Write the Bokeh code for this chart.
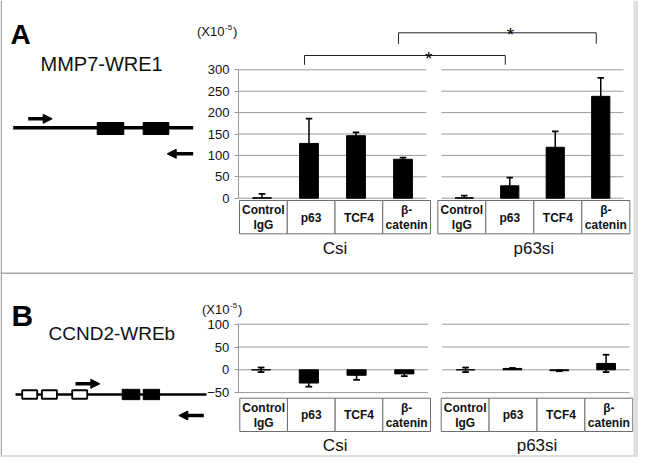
from bokeh.plotting import figure
from bokeh.models import Range1d, LinearAxis, FixedTicker, Arrow, NormalHead
from bokeh.core.properties import value
from bokeh.embed import file_html
from bokeh.resources import INLINE

# ---------------- data ----------------
categories = ["Control\nIgG", "p63", "TCF4", "β-\ncatenin"]
groups = ["Csi", "p63si"]

a_csi_vals = [1, 128, 146, 91]
a_csi_err = [9, 58, 8, 4]
a_p63si_vals = [1, 29, 119, 238]
a_p63si_err = [5, 19, 37, 43]

b_csi_vals = [0, -29, -12, -9]
b_csi_err = [5, 8, 10, 5]
b_p63si_vals = [0, 3, -2, 14]
b_p63si_err = [5, 1, 1, 19]

a_ticks = [0, 50, 100, 150, 200, 250, 300]
b_ticks = [-50, 0, 50, 100]
unit_label = "(X10"
unit_exp = "-5"
title_a = "MMP7-WRE1"
title_b = "CCND2-WREb"

FONT = value("Liberation Sans")
W, H = 638, 457
X0, X1, Y0, Y1 = 0, W, 0, H   # pixel coordinates of the frame

p = figure(width=W, height=H, x_range=Range1d(X0, X1), y_range=Range1d(Y1, Y0),
           x_axis_type=None, y_axis_type=None, toolbar_location=None,
           output_backend="svg", min_border=0)
p.outline_line_color = None
p.background_fill_color = "white"


def yrange(zero_px, px_per_unit):
    return Range1d(start=(zero_px - Y1) / px_per_unit, end=(zero_px - Y0) / px_per_unit)


p.extra_y_ranges = {
    "A": yrange(197.7, (197.7 - 69.3) / 300.0),
    "B": yrange(369.3, (392.7 - 324.3) / 150.0),
}

charts = [
    dict(name="A_csi", left=238.0, right=426.0, yr="A", vals=a_csi_vals, err=a_csi_err,
         sym=False, box=(239.0, 430.0, 200.0, 233.3), group=groups[0], glabel_y=248.0),
    dict(name="A_p63si", left=441.0, right=623.0, yr="A", vals=a_p63si_vals, err=a_p63si_err,
         sym=False, box=(437.3, 629.3, 200.0, 233.3), group=groups[1], glabel_y=248.0),
    dict(name="B_csi", left=236.7, right=427.7, yr="B", vals=b_csi_vals, err=b_csi_err,
         sym=True, box=(239.3, 430.0, 397.7, 431.0), group=groups[0], glabel_y=445.0),
    dict(name="B_p63si", left=441.7, right=629.0, yr="B", vals=b_p63si_vals, err=b_p63si_err,
         sym=True, box=(440.7, 632.3, 397.7, 431.0), group=groups[1], glabel_y=445.0),
]

xr = {}
for c in charts:
    w = (c["right"] - c["left"]) / len(categories)
    c["w"] = w
    xr[c["name"]] = Range1d(start=(X0 - c["left"]) / w - 0.5, end=(X1 - c["left"]) / w - 0.5)
p.extra_x_ranges = xr


def cat_px(c, i):
    return c["left"] + c["w"] * (i + 0.5)


GRID = "#9a9a9a"
idx = list(range(len(categories)))

for c in charts:
    ticks = a_ticks if c["yr"] == "A" else b_ticks
    # gridlines
    p.segment(x0=[-0.5] * len(ticks), x1=[len(categories) - 0.5] * len(ticks), y0=ticks, y1=ticks,
              x_range_name=c["name"], y_range_name=c["yr"], line_color=GRID, line_width=1)
    # bars
    p.vbar(x=idx, top=c["vals"], bottom=0, width=0.4, x_range_name=c["name"],
           y_range_name=c["yr"], fill_color="black", line_color="black")
    # error bars
    up = [v + e for v, e in zip(c["vals"], c["err"])]
    lo = [v - e for v, e in zip(c["vals"], c["err"])] if c["sym"] else list(c["vals"])
    p.segment(x0=idx, x1=idx, y0=lo, y1=up, x_range_name=c["name"], y_range_name=c["yr"],
              line_color="black", line_width=1.5)
    capx0 = [i - 0.07 for i in idx]
    capx1 = [i + 0.07 for i in idx]
    p.segment(x0=capx0, x1=capx1, y0=up, y1=up, x_range_name=c["name"], y_range_name=c["yr"],
              line_color="black", line_width=1.8)
    if c["sym"]:
        p.segment(x0=capx0, x1=capx1, y0=lo, y1=lo, x_range_name=c["name"], y_range_name=c["yr"],
                  line_color="black", line_width=1.8)
    # category boxes
    bl, br, bt, bb = c["box"]
    bw = (br - bl) / len(categories)
    bx = [bl + bw * (i + 0.5) for i in idx]
    p.rect(x=bx, y=[(bt + bb) / 2] * len(idx), width=bw, height=bb - bt,
           fill_color="white", line_color="#6e6e6e", line_width=1)
    p.text(x=bx, y=[(bt + bb) / 2 + 0.5] * len(idx), text=categories, text_font=FONT,
           text_font_style="bold", text_font_size="12px", text_align="center",
           text_baseline="middle", text_line_height=1.1, text_color="#111111")
    p.text(x=[(bl + br) / 2], y=[c["glabel_y"]], text=[c["group"]], text_font=FONT,
           text_font_size="17px", text_align="center", text_baseline="middle",
           text_color="#111111")

# y axes
for yr, loc, ticks in (("A", 238.0, a_ticks), ("B", 237.7, b_ticks)):
    ax = LinearAxis(y_range_name=yr, fixed_location=loc, bounds=(min(ticks), max(ticks)),
                    ticker=FixedTicker(ticks=ticks))
    ax.axis_line_color = GRID
    ax.major_tick_line_color = GRID
    ax.major_tick_out = 4
    ax.major_tick_in = 0
    ax.minor_tick_line_color = None
    ax.major_label_text_font = "Liberation Sans"
    ax.major_label_text_font_size = "13px"
    ax.major_label_text_color = "#111111"
    ax.major_label_standoff = 5
    p.add_layout(ax, "left")

# unit labels
for ux, uy in ((196.5, 30.5), (201.5, 309.0)):
    p.text(x=[ux], y=[uy], text=[unit_label], text_font=FONT, text_font_size="13px",
           text_baseline="middle", text_color="#111111")
    p.text(x=[ux + 28], y=[uy - 4], text=[unit_exp], text_font=FONT, text_font_size="8px",
           text_baseline="middle", text_color="#111111")
    p.text(x=[ux + 36], y=[uy], text=[")"], text_font=FONT, text_font_size="13px",
           text_baseline="middle", text_color="#111111")

# significance brackets (panel A)
ca, cb = charts[0], charts[1]
for (i, ytop, ydrop, sx, sy) in ((1, 55.0, 64.3, 428.3, 57.5), (3, 32.3, 43.3, 510.0, 34.0)):
    xl = cat_px(ca, i) - 4.5
    xr_ = cat_px(cb, i) - 4.5
    p.line(x=[xl, xl, xr_, xr_], y=[ydrop, ytop, ytop, ydrop], line_color="#222222", line_width=1)
    p.text(x=[sx], y=[sy], text=["*"], text_font=FONT, text_font_size="19px",
           text_align="center", text_baseline="alphabetic", text_color="black")

# panel letters and titles
p.text(x=[10], y=[33.5], text=["A"], text_font=FONT, text_font_style="bold",
       text_font_size="28px", text_baseline="alphabetic", text_color="black")
p.text(x=[11], y=[315], text=["B"], text_font=FONT, text_font_style="bold",
       text_font_size="30px", text_baseline="alphabetic", text_color="black")
p.text(x=[40], y=[63], text=[title_a], text_font=FONT, text_font_size="20px",
       text_baseline="alphabetic", text_color="#111111")
p.text(x=[48], y=[333], text=[title_b], text_font=FONT, text_font_size="19px",
       text_baseline="alphabetic", text_color="#111111")

# gene diagram A
p.line(x=[12.7, 192.7], y=[127.3, 127.3], line_color="black", line_width=3.5)
p.rect(x=[110.0, 155.5], y=[128.0, 128.0], width=[26.6, 25.6], height=12,
       fill_color="black", line_color="black")
# gene diagram B
p.line(x=[15.0, 206.0], y=[394.0, 394.0], line_color="black", line_width=2.5)
p.rect(x=[29.2, 48.9, 79.2], y=[394.0] * 3, width=15, height=8.5,
       fill_color="white", line_color="black", line_width=1.8)
p.rect(x=[130.5, 150.9], y=[394.0, 394.0], width=[17.6, 16.3], height=10.3,
       fill_color="black", line_color="black")

# primer arrows
for xs, xe, yy in ((27.7, 51.7, 118.3), (192.7, 166.7, 153.3), (75.0, 99.3, 383.3), (203.3, 178.3, 415.0)):
    p.add_layout(Arrow(end=NormalHead(size=9, fill_color="black", line_color="black", line_width=1),
                       x_start=xs, y_start=yy, x_end=xe, y_end=yy, line_width=3.5, line_color="black"))

# frame
p.segment(x0=[0, 0.8], x1=[633, 0.8], y0=[272.7, 0], y1=[272.7, 460], line_color="#a8a8a8", line_width=1.5)
p.quad(left=[633], right=[650], top=[0], bottom=[470], fill_color="#dedede", line_color=None)
p.quad(left=[0], right=[650], top=[454.5], bottom=[470], fill_color="#dedede", line_color=None)

open("out.html", "w").write(file_html(p, INLINE))
